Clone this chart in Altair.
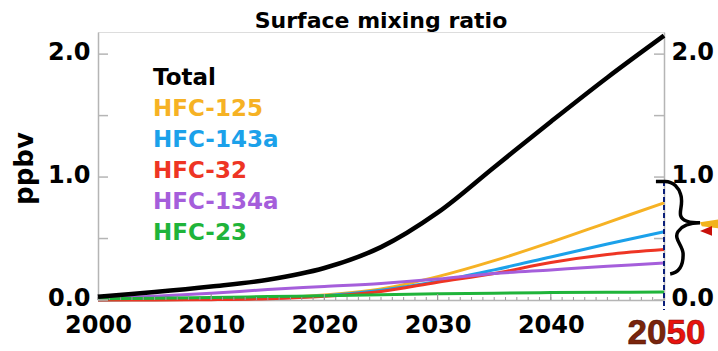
import altair as alt
import pandas as pd

# HFC surface mixing ratios (ppbv), 5-year steps
years = [2000, 2005, 2010, 2015, 2020, 2025, 2030, 2035, 2040, 2045, 2050]
total = [0.027, 0.065, 0.11, 0.165, 0.26, 0.43, 0.71, 1.08, 1.45, 1.81, 2.15]
hfc125 = [0.00, 0.002, 0.005, 0.015, 0.04, 0.09, 0.19, 0.32, 0.47, 0.63, 0.79]
hfc143a = [0.00, 0.002, 0.005, 0.015, 0.035, 0.08, 0.15, 0.245, 0.35, 0.455, 0.555]
hfc32 = [0.00, 0.001, 0.003, 0.01, 0.03, 0.07, 0.145, 0.215, 0.305, 0.37, 0.41]
hfc134a = [0.01, 0.03, 0.055, 0.085, 0.11, 0.135, 0.17, 0.215, 0.245, 0.275, 0.30]
hfc23 = [0.01, 0.015, 0.02, 0.028, 0.035, 0.043, 0.05, 0.055, 0.06, 0.063, 0.065]

names = ["Total", "HFC-125", "HFC-143a", "HFC-32", "HFC-134a", "HFC-23"]
colors = ["#000000", "#F6B224", "#1BA1EA", "#EE3524", "#A55EDB", "#1FB43A"]
series_values = [total, hfc125, hfc143a, hfc32, hfc134a, hfc23]

decade_labels = [2000, 2010, 2020, 2030, 2040]
y_ticks = [0, 0.5, 1, 1.5, 2]
year_ticks = list(range(2000, 2051))

rows = []
for name, vals in zip(names, series_values):
    for yr, v in zip(years, vals):
        rows.append({"year": yr, "value": v, "series": name})
df = pd.DataFrame(rows)
legend_df = pd.DataFrame({"series": names, "row": list(range(len(names)))})
ytick_df = pd.DataFrame({"tick": y_ticks})
xtick_df = pd.DataFrame({"yr": year_ticks})

W, H = 566, 268
FONT = "DejaVu Sans"
GRAY = "#b5b5b5"

xscale = alt.Scale(domain=[2000, 2050], nice=False)
yscale = alt.Scale(domain=[0, 2.18], nice=False, zero=True)
color = alt.Color("series:N", scale=alt.Scale(domain=names, range=colors), legend=None)

label_expr = "datum.value % 1 == 0 ? format(datum.value, '.1f') : ''"

x_axis = alt.Axis(values=decade_labels, format="d", tickSize=0, labelPadding=13,
                  labelFont=FONT, labelFontWeight="bold", labelFontSize=24,
                  labelColor="black", labelFlush=False, labelOverlap=False,
                  domainColor=GRAY, domainWidth=1.5, grid=False, title=None)
y_left = alt.Axis(values=y_ticks, labelExpr=label_expr, tickSize=0, labelPadding=8,
                  labelOffset=-2,
                  labelFont=FONT, labelFontWeight="bold", labelFontSize=24,
                  labelColor="black", labelFlush=False, labelOverlap=False,
                  domainColor=GRAY, domainWidth=1.5, grid=False,
                  title="ppbv", titleFont=FONT, titleFontSize=26, titleFontWeight="bold",
                  titleColor="black", titleX=-74, titleY=136,
                  titleAlign="center", titleBaseline="middle")
y_right = alt.Axis(orient="right", values=y_ticks, labelExpr=label_expr, tickSize=0,
                   labelPadding=7, labelOffset=-2, labelFont=FONT, labelFontWeight="bold",
                   labelFontSize=24, labelColor="black", labelFlush=False,
                   labelOverlap=False, domainColor=GRAY, domainWidth=1.5,
                   grid=False, title=None)

base = alt.Chart(df)

others = base.transform_filter(alt.datum.series != "Total").mark_line(
    strokeWidth=3, interpolate="catmull-rom"
).encode(
    x=alt.X("year:Q", scale=xscale, axis=x_axis),
    y=alt.Y("value:Q", scale=yscale, axis=y_left),
    color=color,
    detail="series:N",
)

total_line = base.transform_filter(alt.datum.series == "Total").mark_line(
    strokeWidth=4.5, interpolate="catmull-rom"
).encode(
    x=alt.X("year:Q", scale=xscale, axis=None),
    y=alt.Y("value:Q", scale=yscale, axis=None),
    color=color,
)

# inward ticks on the left and right value axes
left_ticks = alt.Chart(ytick_df).mark_rule(color=GRAY, strokeWidth=1.5).encode(
    x=alt.value(0), x2=alt.value(10),
    y=alt.Y("tick:Q", scale=yscale, axis=None),
)
right_ticks = alt.Chart(ytick_df).mark_rule(color=GRAY, strokeWidth=1.5).encode(
    x=alt.value(W - 10), x2=alt.value(W),
    y=alt.Y("tick:Q", scale=yscale, axis=y_right),
)

# yearly and decadal ticks on the time axis
year_tick_marks = alt.Chart(xtick_df).mark_rule(color="#9a9a9a", strokeWidth=1).encode(
    x=alt.X("yr:Q", scale=xscale, axis=None),
    y=alt.value(H), y2=alt.value(H - 3),
)
decade_tick_marks = alt.Chart(xtick_df).transform_filter(
    "datum.yr % 10 == 0"
).mark_rule(color="#9a9a9a", strokeWidth=1.2).encode(
    x=alt.X("yr:Q", scale=xscale, axis=None),
    y=alt.value(H), y2=alt.value(H - 6),
)

# coloured series names
legend_text = alt.Chart(legend_df).transform_calculate(
    ly="1.748 - 0.252 * datum.row"
).mark_text(align="left", baseline="alphabetic", font=FONT, fontWeight="bold",
            fontSize=23).encode(
    x=alt.value(55),
    y=alt.Y("ly:Q", scale=yscale, axis=None),
    text="series:N",
    color=color,
)

title = alt.Chart(legend_df).transform_filter("datum.row == 0").mark_text(
    text="Surface mixing ratio", align="center", baseline="alphabetic",
    font=FONT, fontWeight="bold", fontSize=22, color="black",
).encode(x=alt.value(W / 2), y=alt.value(-4.5))

# 2050 marker line and brace grouping the individual HFCs
marker = alt.Chart(legend_df).transform_filter("datum.row == 0").mark_rule(
    color="#0b1f7a", strokeWidth=2, strokeDash=[5, 3]
).encode(
    x=alt.X(datum=2050, scale=xscale, axis=None),
    y=alt.value(149), y2=alt.value(H + 10),
)

brace_path = ("M -0.48 -0.99 L -0.28 -0.99 C -0.1 -0.99 0.02 -0.85 0.06 -0.7 "
              "C 0.12 -0.5 0.02 -0.35 0.06 -0.24 C 0.1 -0.12 0.3 -0.09 0.48 -0.09 "
              "C 0.3 -0.09 0.1 -0.05 0.0 0.1 C -0.1 0.25 0.1 0.4 0.11 0.57 "
              "C 0.12 0.8 0.05 0.98 -0.17 1.02")
brace = alt.Chart(legend_df).transform_filter("datum.row == 0").mark_point(
    shape=brace_path, size=8464, filled=False, stroke="black", strokeWidth=3.5,
    opacity=1,
).encode(x=alt.value(580), y=alt.value(195))

pointer_orange = alt.Chart(legend_df).transform_filter("datum.row == 0").mark_point(
    shape="M -1 -0.3 L 1 -0.6 L 1 0.35 L -0.8 0.15 Z", size=324, filled=True,
    fill="#F2B31C", strokeWidth=0, opacity=1,
).encode(x=alt.value(611), y=alt.value(193))
pointer_red = alt.Chart(legend_df).transform_filter("datum.row == 0").mark_point(
    shape="M -1 0.67 L 0.33 0.1 L 0.33 1.2 Z", size=324, filled=True,
    fill="#C8100A", strokeWidth=0, opacity=1,
).encode(x=alt.value(611), y=alt.value(193))

label_20 = alt.Chart(legend_df).transform_filter("datum.row == 0").mark_text(
    text="20", align="right", baseline="alphabetic", font="Liberation Sans",
    fontWeight="bold", fontSize=35, color="#7a250c", stroke="#4a1206", strokeWidth=0.6,
).encode(x=alt.value(568.5), y=alt.value(312))
label_50 = alt.Chart(legend_df).transform_filter("datum.row == 0").mark_text(
    text="50", align="left", baseline="alphabetic", font="Liberation Sans",
    fontWeight="bold", fontSize=35, color="#E8120E", stroke="#8a0a05", strokeWidth=0.6,
).encode(x=alt.value(568.5), y=alt.value(312))

chart = alt.layer(
    others, year_tick_marks, decade_tick_marks, left_ticks, right_ticks,
    total_line, marker, legend_text, title,
    brace, pointer_orange, pointer_red, label_20, label_50,
).resolve_axis(x="independent", y="independent").properties(
    width=W, height=H,
    autosize=alt.AutoSizeParams(type="none"),
    padding={"left": 98, "top": 32, "right": 54, "bottom": 51},
).configure_view(strokeWidth=0).configure(background="white")

chart.save("out.html", embed_options={"renderer": "svg", "actions": False})
